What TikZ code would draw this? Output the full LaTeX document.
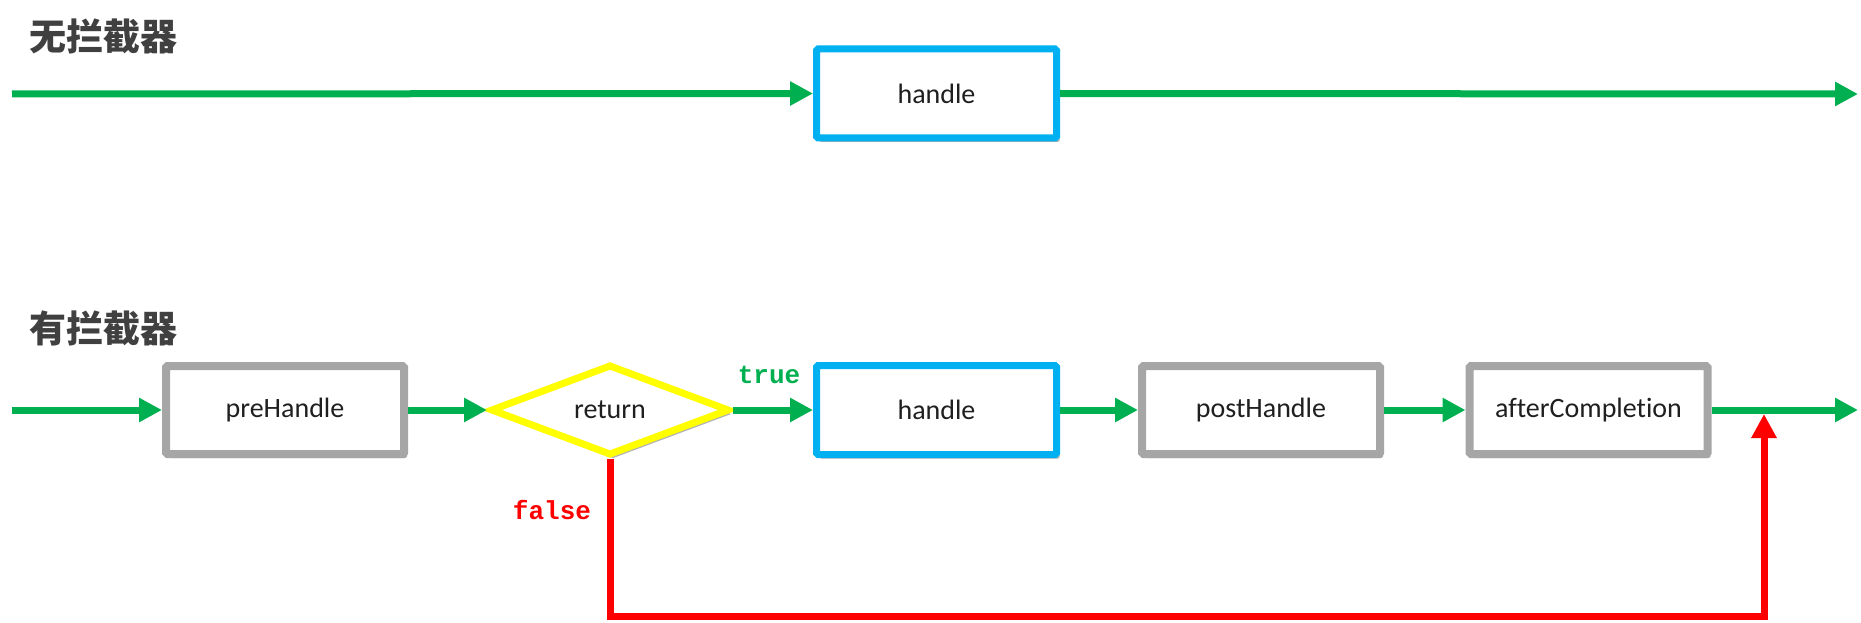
\documentclass[tikz,border=0pt]{standalone}
\usepackage{fontspec}
\setmainfont{Carlito}[Ligatures=NoCommon]
\newfontfamily\cjk{Noto Sans CJK SC}
\newfontfamily\mono{Liberation Mono}
\usetikzlibrary{shapes.geometric,arrows.meta,shadows}
\definecolor{flowgreen}{HTML}{00B050}
\definecolor{boxblue}{HTML}{00B0F0}
\definecolor{boxgray}{HTML}{A6A6A6}
\definecolor{diayellow}{HTML}{FFFF00}
\definecolor{titlegray}{HTML}{404040}
\definecolor{txt}{HTML}{1F1F1F}
\tikzset{
  shadowed/.style={drop shadow={shadow xshift=3pt,shadow yshift=-4pt,opacity=0.3,fill=black}},
  procbox/.style={draw, line width=7pt, fill=white, minimum width=240pt, minimum height=89pt,
    inner sep=0pt, font=\fontsize{28}{32}\selectfont, text=txt, rounded corners=1.5pt, shadowed},
  bluebox/.style={procbox, draw=boxblue},
  graybox/.style={procbox, draw=boxgray, line width=8pt, minimum width=238pt, minimum height=88pt},
  decision/.style={diamond, draw=diayellow, line width=7pt, fill=white, aspect=2.6,
    minimum width=239pt, minimum height=91pt, inner sep=0pt, font=\fontsize{28}{32}\selectfont, text=txt, shadowed},
  title/.style={font=\cjk\bfseries\fontsize{37}{40}\selectfont, text=titlegray, anchor=west, inner sep=0pt},
  flow/.style={draw=flowgreen, line width=7pt, -{Triangle[length=23pt,width=23pt]}},
  backflow/.style={draw=red, line width=7pt, -{Triangle[length=24pt,width=24pt]}},
  cond/.style={font=\mono\bfseries\fontsize{26}{28}\selectfont, inner sep=0pt},
}
\begin{document}
\begin{tikzpicture}[x=1pt,y=-1pt]
\useasboundingbox (0,0) rectangle (1861,623);
% titles
\node[title] (t1) at (29,36) {无拦截器};
\node[title] (t2) at (29,328) {有拦截器};
% top row
\coordinate (s1) at (12,94);
\coordinate (e1) at (1858,94);
\node[bluebox] (h1) at (936.5,93.5) {handle};
\draw[flow] (s1) -- (h1.west);
\draw[flow] (h1.east) -- (e1);
% bottom row
\coordinate (s2) at (12,410);
\node[graybox] (pre) at (285,410) {preHandle};
\node[decision] (ret) at (610,410) {return};
\node[bluebox] (h2) at (936.5,410) {handle};
\node[graybox] (post) at (1261,410) {postHandle};
\node[graybox] (after) at (1588.5,410) {afterCompletion};
\coordinate (e2) at (1858,410);
\coordinate (join) at (1764,414);
\coordinate (rc) at (1764,616);
\draw[flow] (s2) -- (pre.west);
\draw[flow] (pre.east) -- (ret.west);
\draw[flow] (ret.east) -- (h2.west);
\draw[flow] (h2.east) -- (post.west);
\draw[flow] (post.east) -- (after.west);
\draw[flow] (after.east) -- (e2);
\draw[backflow] (ret.south) |- (rc) -- (join);
% labels
\node[cond, text=flowgreen] (tl) at (769,375) {true};
\node[cond, text=red] (fl) at (552,510) {false};
\end{tikzpicture}
\end{document}
